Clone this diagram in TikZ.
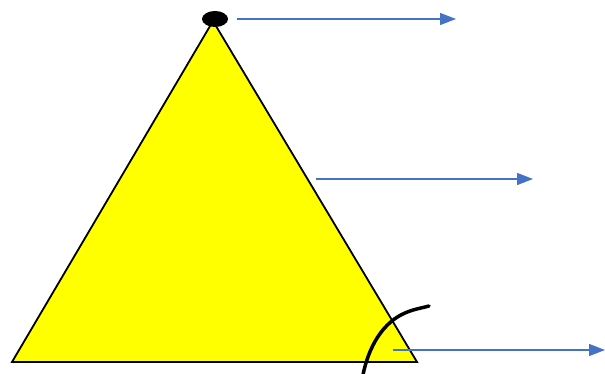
\documentclass[tikz,border=0pt]{standalone}
\usetikzlibrary{arrows.meta}
\definecolor{officeblue}{RGB}{68,114,196}
\definecolor{pureyellow}{RGB}{255,255,0}
\tikzset{
  pointer/.style={draw=officeblue, line width=1.3pt, -{Triangle[length=16pt,width=12pt]}},
  tri/.style={draw=black, line width=1.8pt, fill=pureyellow, line join=miter},
}
\begin{document}
\begin{tikzpicture}[x=1pt,y=-1pt]
\useasboundingbox (0,0) rectangle (605,374);
\fill[white] (0,0) rectangle (605,374);
\coordinate (apex) at (213,21);
\coordinate (bl) at (12,362);
\coordinate (br) at (417,362);
\draw[tri] (apex) -- (br) -- (bl) -- cycle;
\fill[black] (215,19) ellipse (13 and 8);
\coordinate (a1s) at (237,19);
\coordinate (a1e) at (456,19);
\coordinate (a2s) at (316,179);
\coordinate (a2e) at (533,179);
\coordinate (a3s) at (393,350);
\coordinate (a3e) at (605,350);
\draw[pointer] (a1s) -- (a1e);
\draw[pointer] (a2s) -- (a2e);
\draw[pointer] (a3s) -- (a3e);
\draw[black, line width=3.5pt, line cap=round]
  (362,380) .. controls (368,345) and (384,322) .. (405,313)
  .. controls (414,309) and (422,308) .. (429,306);
\end{tikzpicture}
\end{document}
